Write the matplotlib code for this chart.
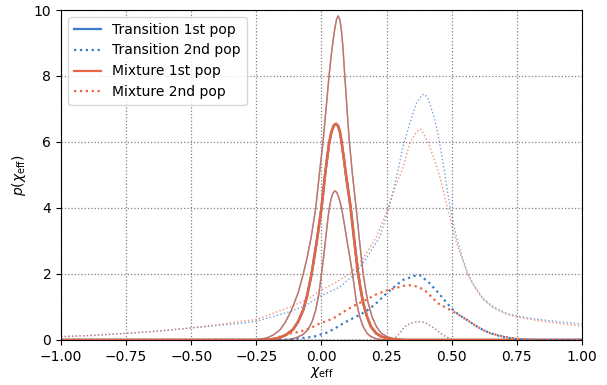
import numpy as np
import matplotlib
matplotlib.use('Agg')
import matplotlib.pyplot as plt
from matplotlib.lines import Line2D

blue = '#3a7dc5'
red = '#e8653f'

# 1st population (solid): upper bound, median, lower bound
pop1_hi_x = [-1.0, -0.30, -0.25, -0.23, -0.21, -0.185, -0.16, -0.14, -0.115, -0.09, -0.07, -0.055,
             -0.04, -0.022, -0.0065, 0.006, 0.018, 0.029, 0.037, 0.045, 0.052, 0.058, 0.064, 0.070,
             0.076, 0.082, 0.089, 0.098, 0.107, 0.119, 0.133, 0.146, 0.160, 0.170, 0.179, 0.195,
             0.211, 0.230, 0.254, 0.280, 0.310, 0.340, 1.0]
pop1_hi_y = [0.0, 0.0, 0.01, 0.03, 0.06, 0.15, 0.30, 0.52, 0.91, 1.42, 2.0, 2.5,
             3.1, 4.0, 5.15, 6.0, 7.05, 8.0, 8.6, 9.1, 9.48, 9.72, 9.82, 9.72,
             9.42, 8.9, 8.05, 7.0, 6.0, 5.0, 4.0, 3.0, 2.0, 1.5, 1.12, 0.68,
             0.40, 0.20, 0.09, 0.035, 0.01, 0.0, 0.0]

pop1_med_x = [-1.0, -0.22, -0.19, -0.16, -0.135, -0.109, -0.09, -0.07, -0.055, -0.038, -0.018, 0.0,
              0.015, 0.029, 0.038, 0.047, 0.056, 0.064, 0.071, 0.077, 0.085, 0.094, 0.103, 0.112,
              0.126, 0.140, 0.150, 0.160, 0.175, 0.190, 0.210, 0.230, 0.260, 0.290, 0.320, 1.0]
pop1_med_y = [0.0, 0.0, 0.02, 0.07, 0.16, 0.32, 0.55, 0.91, 1.35, 2.0, 3.0, 4.0,
              5.1, 5.95, 6.3, 6.5, 6.55, 6.48, 6.3, 6.0, 5.55, 5.0, 4.5, 4.0,
              3.0, 2.05, 1.55, 1.12, 0.70, 0.40, 0.20, 0.10, 0.035, 0.01, 0.0, 0.0]

pop1_lo_x = [-1.0, -0.15, -0.12, -0.096, -0.07, -0.051, -0.035, -0.022, -0.010, 0.0, 0.008, 0.015,
             0.022, 0.029, 0.036, 0.043, 0.051, 0.058, 0.066, 0.077, 0.088, 0.098, 0.109, 0.119,
             0.127, 0.134, 0.147, 0.160, 0.175, 0.190, 0.210, 0.230, 0.250, 1.0]
pop1_lo_y = [0.0, 0.0, 0.02, 0.07, 0.17, 0.32, 0.58, 0.91, 1.40, 2.0, 2.5, 3.0,
             3.5, 3.95, 4.25, 4.43, 4.52, 4.48, 4.33, 4.0, 3.5, 3.0, 2.5, 2.0,
             1.55, 1.15, 0.70, 0.40, 0.20, 0.10, 0.04, 0.01, 0.0, 0.0]

# 2nd population (dotted), Transition model
t2_med_x = [-1.0, -0.15, -0.10, -0.03, 0.02, 0.045, 0.096, 0.147, 0.180, 0.210, 0.235, 0.256, 0.290,
            0.313, 0.339, 0.360, 0.377, 0.392, 0.410, 0.424, 0.454, 0.482, 0.511, 0.540, 0.562,
            0.590, 0.620, 0.650, 0.684, 0.720, 0.748, 0.800, 1.0]
t2_med_y = [0.0, 0.0, 0.03, 0.10, 0.22, 0.32, 0.56, 0.76, 0.92, 1.11, 1.30, 1.46, 1.68,
            1.82, 1.89, 1.95, 1.97, 1.87, 1.76, 1.64, 1.38, 1.11, 0.86, 0.70, 0.59,
            0.44, 0.30, 0.20, 0.12, 0.06, 0.03, 0.0, 0.0]

t2_hi_x = [-1.0, -0.875, -0.75, -0.625, -0.5, -0.375, -0.313, -0.25, -0.186, -0.12, -0.058, 0.0,
           0.07, 0.128, 0.172, 0.224, 0.259, 0.294, 0.313, 0.339, 0.364, 0.385, 0.396, 0.410,
           0.428, 0.447, 0.460, 0.473, 0.485, 0.498, 0.518, 0.540, 0.562, 0.588, 0.620, 0.658,
           0.709, 0.760, 0.837, 0.914, 1.0]
t2_hi_y = [0.10, 0.14, 0.20, 0.27, 0.36, 0.46, 0.50, 0.57, 0.71, 0.86, 1.06, 1.35,
           1.60, 2.0, 2.47, 3.13, 4.0, 5.15, 5.86, 6.57, 7.17, 7.42, 7.45, 7.3,
           6.87, 6.26, 5.66, 5.05, 4.44, 3.84, 3.13, 2.52, 2.0, 1.62, 1.26, 1.01,
           0.81, 0.71, 0.62, 0.55, 0.48]

# 2nd population (dotted), Mixture model
m2_med_x = [-1.0, -0.20, -0.16, -0.12, -0.083, -0.04, -0.007, 0.045, 0.096, 0.130, 0.172, 0.210,
            0.249, 0.288, 0.315, 0.336, 0.360, 0.377, 0.403, 0.413, 0.447, 0.482, 0.505, 0.540,
            0.562, 0.590, 0.620, 0.650, 0.684, 0.720, 0.760, 0.800, 0.850, 1.0]
m2_med_y = [0.0, 0.0, 0.10, 0.20, 0.25, 0.37, 0.50, 0.65, 0.91, 1.06, 1.22, 1.38,
            1.50, 1.58, 1.64, 1.66, 1.63, 1.59, 1.46, 1.38, 1.11, 0.96, 0.86, 0.70,
            0.59, 0.44, 0.30, 0.20, 0.13, 0.07, 0.03, 0.01, 0.0, 0.0]

m2_hi_x = [-1.0, -0.875, -0.75, -0.625, -0.5, -0.375, -0.313, -0.25, -0.186, -0.12, -0.058, 0.0,
           0.057, 0.115, 0.160, 0.211, 0.256, 0.288, 0.310, 0.339, 0.360, 0.375, 0.383, 0.409,
           0.434, 0.454, 0.473, 0.489, 0.511, 0.537, 0.560, 0.588, 0.620, 0.658, 0.709, 0.760,
           0.837, 0.914, 1.0]
m2_hi_y = [0.10, 0.14, 0.20, 0.27, 0.37, 0.48, 0.56, 0.62, 0.81, 1.0, 1.21, 1.52,
           1.75, 2.05, 2.47, 3.13, 4.0, 4.75, 5.15, 5.96, 6.25, 6.38, 6.38, 6.0,
           5.45, 4.95, 4.34, 3.84, 3.13, 2.52, 2.0, 1.60, 1.23, 0.98, 0.78, 0.68,
           0.58, 0.50, 0.42]

# lower bound of 2nd pop (both models nearly identical)
pop2_lo_x = [-1.0, 0.26, 0.281, 0.300, 0.319, 0.340, 0.364, 0.385, 0.403, 0.420, 0.434, 0.454,
             0.466, 0.490, 0.510, 1.0]
pop2_lo_y = [0.0, 0.0, 0.05, 0.20, 0.40, 0.50, 0.55, 0.55, 0.50, 0.42, 0.35, 0.22,
             0.15, 0.05, 0.0, 0.0]

fig = plt.figure(figsize=(6.07, 3.85), dpi=100)
ax = fig.add_axes([0.1005, 0.117, 0.8583, 0.857])

thin = 1.0
thick = 1.8
a_thin = 0.75

for c in [blue, red]:
    ax.plot(pop1_hi_x, pop1_hi_y, '-', color=c, lw=thin, alpha=a_thin)
    ax.plot(pop1_lo_x, pop1_lo_y, '-', color=c, lw=thin, alpha=a_thin)
    ax.plot(pop1_med_x, pop1_med_y, '-', color=c, lw=thick)
    ax.plot(pop2_lo_x, pop2_lo_y, ':', color=c, lw=thin, alpha=0.6)

ax.plot(t2_hi_x, t2_hi_y, ':', color=blue, lw=thin, alpha=0.7)
ax.plot(m2_hi_x, m2_hi_y, ':', color=red, lw=thin, alpha=0.7)
ax.plot(t2_med_x, t2_med_y, ':', color=blue, lw=1.6)
ax.plot(m2_med_x, m2_med_y, ':', color=red, lw=1.6)

handles = [Line2D([], [], color=blue, lw=1.6, ls='-'),
           Line2D([], [], color=blue, lw=1.6, ls=':'),
           Line2D([], [], color=red, lw=1.6, ls='-'),
           Line2D([], [], color=red, lw=1.6, ls=':')]
labels = ['Transition 1st pop', 'Transition 2nd pop', 'Mixture 1st pop', 'Mixture 2nd pop']
ax.legend(handles, labels, loc='upper left', fontsize=10)

ax.set_xlim(-1, 1)
ax.set_ylim(0, 10)
ax.set_xticks(np.arange(-1, 1.01, 0.25))
ax.set_yticks([0, 2, 4, 6, 8, 10])
ax.grid(True, ls=':', color='gray', lw=0.9)
ax.set_axisbelow(True)
ax.set_xlabel(r'$\chi_{\rm eff}$', labelpad=1)
ax.set_ylabel(r'$p(\chi_{\rm eff})$')

plt.savefig('out.png', dpi=100)
